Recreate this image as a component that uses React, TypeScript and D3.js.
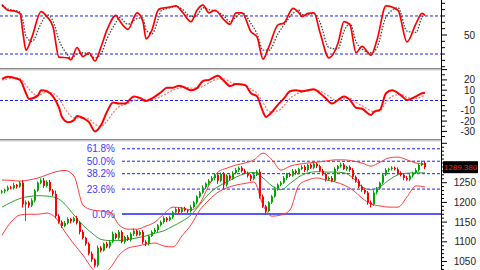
import React from "react";
import * as d3 from "d3";

// ---------- data ----------
const closes: number[] = [
  1228, 1232, 1238, 1236, 1244, 1240, 1250, 1195, 1200, 1192,
  1205, 1230, 1250, 1256, 1242, 1252, 1230, 1222, 1165, 1150,
  1140, 1148, 1158, 1152, 1160, 1148, 1125, 1110, 1095, 1070,
  1055, 1040, 1085, 1078, 1095, 1088, 1100, 1120, 1110, 1125,
  1100, 1112, 1105, 1120, 1128, 1118, 1125, 1100, 1095, 1115,
  1125, 1130, 1142, 1150, 1160, 1155, 1162, 1175, 1183, 1176,
  1185, 1180, 1178, 1188, 1200, 1215, 1225, 1238, 1248, 1255,
  1262, 1270, 1255, 1272, 1245, 1268, 1260, 1275, 1282, 1288,
  1280, 1275, 1268, 1260, 1270, 1278, 1215, 1190, 1178, 1200,
  1215, 1235, 1245, 1250, 1262, 1272, 1268, 1280, 1275, 1285,
  1290, 1282, 1295, 1288, 1298, 1292, 1280, 1272, 1258, 1262,
  1255, 1285, 1292, 1296, 1285, 1290, 1282, 1265, 1255, 1240,
  1232, 1225, 1200, 1195, 1225, 1235, 1250, 1270, 1282, 1285,
  1288, 1284, 1275, 1270, 1262, 1258, 1268, 1275, 1282, 1295,
  1300, 1289.38,
];
const firstOpen = 1225;
const wickUp: number[] = [
  4, 3, 5, 4, 6, 3, 4, 6, 5, 4,
  5, 4, 3, 5, 6, 4, 5, 4, 8, 5,
  4, 5, 4, 3, 4, 6, 4, 5, 3, 4,
  5, 3, 6, 4, 3, 5, 4, 6, 3, 5,
  4, 3, 5, 4, 6, 3, 4, 5, 4, 3,
  4, 5, 3, 4, 5, 3, 4, 3, 5, 4,
  3, 4, 3, 5, 4, 3, 4, 5, 3, 4,
  5, 3, 6, 4, 5, 4, 3, 4, 5, 3,
  4, 5, 3, 4, 5, 4, 6, 5, 4, 3,
  4, 5, 3, 4, 5, 3, 4, 5, 4, 3,
  4, 5, 3, 4, 6, 3, 4, 5, 3, 4,
  5, 4, 3, 5, 4, 3, 4, 5, 3, 4,
  5, 3, 4, 5, 6, 4, 3, 4, 5, 3,
  4, 3, 5, 4, 3, 5, 4, 3, 5, 4,
  6, 5,
];
const wickDn: number[] = [
  3, 5, 4, 3, 4, 5, 3, 8, 42, 6,
  4, 5, 3, 4, 5, 4, 3, 6, 5, 4,
  5, 3, 4, 5, 3, 4, 6, 4, 5, 4,
  6, 5, 4, 5, 3, 4, 5, 3, 4, 5,
  4, 5, 3, 4, 5, 4, 3, 5, 6, 4,
  3, 4, 5, 3, 4, 5, 3, 4, 3, 5,
  4, 3, 5, 4, 3, 5, 4, 3, 4, 5,
  3, 6, 8, 4, 12, 5, 4, 3, 4, 5,
  4, 3, 5, 6, 4, 3, 5, 4, 6, 3,
  4, 3, 5, 4, 3, 5, 4, 3, 5, 4,
  3, 5, 4, 3, 4, 5, 3, 4, 5, 3,
  4, 3, 5, 4, 3, 5, 4, 6, 5, 4,
  5, 4, 6, 8, 4, 5, 3, 4, 3, 5,
  4, 3, 5, 4, 6, 3, 4, 5, 3, 4,
  3, 5,
];

const bandIdx = d3.range(0, 142, 3);
const bandUpper = [
  1257, 1256, 1254, 1257, 1262, 1270, 1278, 1281, 1267, 1193,
  1181, 1178, 1175, 1143, 1132, 1132, 1140, 1150, 1171, 1188,
  1186, 1181, 1198, 1244, 1277, 1287, 1295, 1300, 1308, 1325,
  1308, 1282, 1292, 1297, 1300, 1302, 1305, 1308, 1308, 1305,
  1300, 1292, 1302, 1313, 1315, 1308, 1300, 1297,
];
const bandMid = [
  1188, 1200, 1210, 1215, 1217, 1216, 1212, 1195, 1168, 1142,
  1122, 1106, 1103, 1103, 1106, 1110, 1115, 1122, 1128, 1140,
  1152, 1168, 1195, 1222, 1240, 1252, 1264, 1273, 1276, 1262,
  1242, 1232, 1248, 1265, 1275, 1278, 1277, 1277, 1275, 1262,
  1240, 1232, 1240, 1257, 1270, 1274, 1275, 1275,
];
const bandLower = [
  1117, 1150, 1168, 1170, 1170, 1173, 1160, 1125, 1094, 1066,
  1033, 1016, 1033, 1066, 1084, 1089, 1094, 1097, 1089, 1087,
  1115, 1143, 1181, 1206, 1226, 1237, 1244, 1248, 1252, 1193,
  1165, 1168, 1181, 1244, 1257, 1262, 1257, 1252, 1244, 1231,
  1211, 1196, 1191, 1188, 1188, 1214, 1242, 1239,
];

const stochIdx = [
  0, 2, 4, 6, 7, 8, 10, 13, 15, 17,
  19, 22, 23, 25, 27, 29, 31, 33, 35, 38,
  39, 42, 45, 47, 48, 50, 52, 53, 56, 58,
  60, 63, 65, 67, 69, 71, 74, 76, 78, 80,
  83, 85, 87, 89, 92, 94, 97, 99, 100, 102,
  104, 106, 109, 112, 114, 116, 118, 120, 123, 125,
  128, 132, 135, 138, 140, 141,
];
const stochK = [
  98, 89, 88, 84, 53, 26, 47, 87, 79, 63,
  15, 14, 11, 30, 16, 22, 9, 31, 58, 81,
  74, 59, 85, 71, 44, 58, 89, 92, 94, 96,
  87, 71, 89, 97, 85, 89, 74, 67, 85, 85,
  55, 47, 12, 32, 66, 69, 92, 85, 79, 84,
  85, 54, 14, 37, 71, 66, 22, 32, 18, 42,
  96, 89, 39, 68, 84, 81,
];
const stochD = [
  96, 91, 89, 86, 72, 48, 40, 68, 82, 72,
  42, 18, 13, 20, 22, 19, 14, 20, 44, 70,
  78, 67, 76, 77, 58, 52, 74, 88, 93, 95,
  91, 79, 81, 93, 90, 88, 80, 71, 78, 85,
  68, 52, 26, 26, 52, 66, 84, 89, 82, 82,
  84, 70, 30, 28, 56, 68, 40, 28, 22, 30,
  78, 93, 56, 54, 78, 82,
];

const macdIdx = [
  0, 2, 4, 6, 8, 9, 12, 13, 15, 17,
  19, 20, 22, 24, 25, 27, 29, 31, 33, 35,
  37, 39, 41, 44, 46, 48, 50, 53, 55, 57,
  59, 61, 63, 65, 67, 69, 72, 74, 76, 78,
  81, 83, 85, 87, 88, 89, 92, 94, 96, 98,
  100, 104, 106, 108, 110, 112, 114, 116, 118, 120,
  123, 124, 126, 128, 130, 133, 135, 138, 140, 141,
];
const macdMain = [
  21, 23, 22, 20, 7, 1.5, 5, 10, 9, 4,
  -7, -16, -21, -19, -15, -17, -21, -30, -24, -11,
  -2, -3, -3, 4, 2.5, -0.5, 2, 8, 12.4, 12.4,
  14.4, 12.4, 10, 12, 19, 20, 24, 19, 14, 16,
  15, 7, 4, -11, -16, -14, -4, 2, 9, 10,
  9, 11, 7, 2, -3, 0.5, 4, 0.5, -7, -8,
  -14, -11, -9, 7, 10, 5, 0.5, 4, 7, 7.5,
];
const macdSignal = [
  20, 21, 22, 21, 15, 11, 5, 6, 8, 7,
  2, -3, -12, -17, -17, -17, -18, -23, -25, -20,
  -12, -6, -4, 0, 2, 1, 1, 4, 7, 10,
  12, 13, 12, 12, 14, 17, 21, 21, 18, 16,
  15, 11, 7, -2, -7, -11, -10, -5, 2, 6,
  8, 10, 9, 6, 2, 0, 1.5, 2, -2, -5,
  -10, -11, -10, -2, 4, 6, 3, 2, 4, 5,
];

const fibLabels = ["61.8%", "50.0%", "38.2%", "23.6%", "0.0%"];
const fibRatios = [0.618, 0.5, 0.382, 0.236, 0];
const fibLow = 1170.5;
const fibHigh = 1438.5;

const priceLabels = [1250, 1200, 1150, 1100, 1050];
const macdLabels = [20, 10, 0, -10, -20, -30];
const stochLabels = [50];
const stochLevels = [80, 20];
const lastPrice = 1289.38;

// ---------- layout ----------
const W = 480;
const H = 270;
const AX = 441;
const FONT = "'Liberation Sans', Arial, sans-serif";
const UP = "#00a800";
const DOWN = "#ff0000";
const BLUE = "#2020ff";

const xScale = d3.scaleLinear().domain([0, 141]).range([2, 425]);
const yStoch = d3.scaleLinear().domain([0, 100]).range([66.7, 3.3]);
const yMacd = d3.scaleLinear().domain([0, 10]).range([100.5, 90.2]);
const yPrice = d3.scaleLinear().domain([1250, 1200]).range([182.7, 202.4]);

function linePath(idx: number[], vals: number[], y: (v: number) => number) {
  return (
    d3
      .line<number>()
      .x((_, k) => xScale(idx[k]))
      .y((d) => y(d))
      .curve(d3.curveMonotoneX)(vals) || ""
  );
}

export default function App() {
  const candles = closes.map((c, i) => {
    const o = i === 0 ? firstOpen : closes[i - 1];
    return { i, o, c, h: Math.max(o, c) + wickUp[i], l: Math.min(o, c) - wickDn[i] };
  });

  const stochTicks = d3.range(0, 101, 10);
  const macdTicks = d3.range(-35, 31, 5);
  const priceTicks = d3.range(1030, 1360, 10);

  return (
    <svg
      width={W}
      height={H}
      style={{ position: "absolute", left: 0, top: 0, background: "#fff" }}
      fontFamily={FONT}
    >
      <defs>
        <clipPath id="c1">
          <rect x={0} y={0} width={AX} height={68} />
        </clipPath>
        <clipPath id="c2">
          <rect x={0} y={71} width={AX} height={68} />
        </clipPath>
        <clipPath id="c3">
          <rect x={0} y={142} width={AX} height={128} />
        </clipPath>
      </defs>
      <rect x={0} y={0} width={W} height={H} fill="#fff" />

      {/* ---- panel 1: stochastic ---- */}
      <g>
        {stochLevels.map((v) => (
          <line key={v} x1={0} x2={AX} y1={yStoch(v)} y2={yStoch(v)} stroke={BLUE} strokeDasharray="3,2" strokeWidth={1} />
        ))}
        <g clipPath="url(#c1)">
          <path d={linePath(stochIdx, stochD, yStoch)} fill="none" stroke="#444" strokeWidth={1.3} strokeDasharray="1.5,1.5" />
          <path d={linePath(stochIdx, stochK, yStoch)} fill="none" stroke="#ff0000" strokeWidth={1.7} />
        </g>
        {stochTicks.map((v) => (
          <line key={v} x1={AX} x2={AX + (v === 50 ? 6 : 4)} y1={yStoch(v)} y2={yStoch(v)} stroke="#000" />
        ))}
        {stochLabels.map((v) => (
          <text key={v} x={475} y={yStoch(v) + 3.5} fontSize={10} textAnchor="end" fill="#222">{v}</text>
        ))}
      </g>

      {/* separators */}
      <rect x={0} y={68} width={AX} height={1.5} fill="#8a8a8a" />
      <rect x={0} y={69.5} width={AX} height={1} fill="#d0d0d0" />
      <rect x={0} y={139} width={AX} height={1.5} fill="#8a8a8a" />
      <rect x={0} y={140.5} width={AX} height={1} fill="#d0d0d0" />

      {/* ---- panel 2: macd ---- */}
      <g>
        <line x1={0} x2={AX} y1={yMacd(0)} y2={yMacd(0)} stroke={BLUE} strokeDasharray="3,2" />
        <g clipPath="url(#c2)">
          <path d={linePath(macdIdx, macdSignal, yMacd)} fill="none" stroke="#ff7070" strokeWidth={1.2} strokeDasharray="2,1.5" />
          <path d={linePath(macdIdx, macdMain, yMacd)} fill="none" stroke="#ff0000" strokeWidth={2} />
        </g>
        {macdTicks.map((v) => (
          <line key={v} x1={AX} x2={AX + (v % 10 === 0 ? 6 : 4)} y1={yMacd(v)} y2={yMacd(v)} stroke="#000" />
        ))}
        {macdLabels.map((v) => (
          <text key={v} x={475} y={yMacd(v) + 3.5} fontSize={10} textAnchor="end" fill="#222">{v}</text>
        ))}
      </g>

      {/* ---- panel 3: price ---- */}
      <g>
        {fibRatios.map((r, k) => {
          const y = yPrice(fibLow + r * (fibHigh - fibLow));
          return (
            <g key={k}>
              <line x1={122} x2={AX} y1={y} y2={y} stroke={BLUE} strokeWidth={r === 0 ? 1.5 : 1} strokeDasharray={r === 0 ? undefined : "3,2"} />
              <text x={115} y={y + 3.5} fontSize={10} textAnchor="end" fill="#3a3aff">{fibLabels[k]}</text>
            </g>
          );
        })}
        <g clipPath="url(#c3)">
          <path d={linePath(bandIdx, bandUpper, yPrice)} fill="none" stroke="#ff3b3b" strokeWidth={1} />
          <path d={linePath(bandIdx, bandLower, yPrice)} fill="none" stroke="#ff3b3b" strokeWidth={1} />
          <path d={linePath(bandIdx, bandMid, yPrice)} fill="none" stroke="#30a030" strokeWidth={1} />
          {candles.map(({ i, o, c, h, l }) => {
            const x = xScale(i);
            const top = yPrice(Math.max(o, c));
            const bot = yPrice(Math.min(o, c));
            const col = c >= o ? UP : DOWN;
            return (
              <g key={i}>
                <line x1={x - 0.5} x2={x - 0.5} y1={yPrice(h)} y2={yPrice(l)} stroke={col} strokeWidth={1} />
                <rect x={x - 1} y={top} width={2} height={Math.max(1, bot - top)} fill={col} />
              </g>
            );
          })}
        </g>
        {priceTicks.map((v) => (
          <line key={v} x1={AX} x2={AX + (v % 50 === 0 ? 6 : 3)} y1={yPrice(v)} y2={yPrice(v)} stroke="#000" />
        ))}
        {priceLabels.map((v) => (
          <text key={v} x={476} y={yPrice(v) + 3.5} fontSize={10} textAnchor="end" fill="#222">{v}</text>
        ))}
        <rect x={443} y={yPrice(lastPrice) - 6} width={35} height={12} fill="#000" />
        <text x={460.5} y={yPrice(lastPrice) + 3} fontSize={8} textAnchor="middle" fill="#ff2020">
          {lastPrice.toFixed(3)}
        </text>
      </g>

      {/* axis */}
      <line x1={AX + 0.5} x2={AX + 0.5} y1={0} y2={H} stroke="#000" />
    </svg>
  );
}
